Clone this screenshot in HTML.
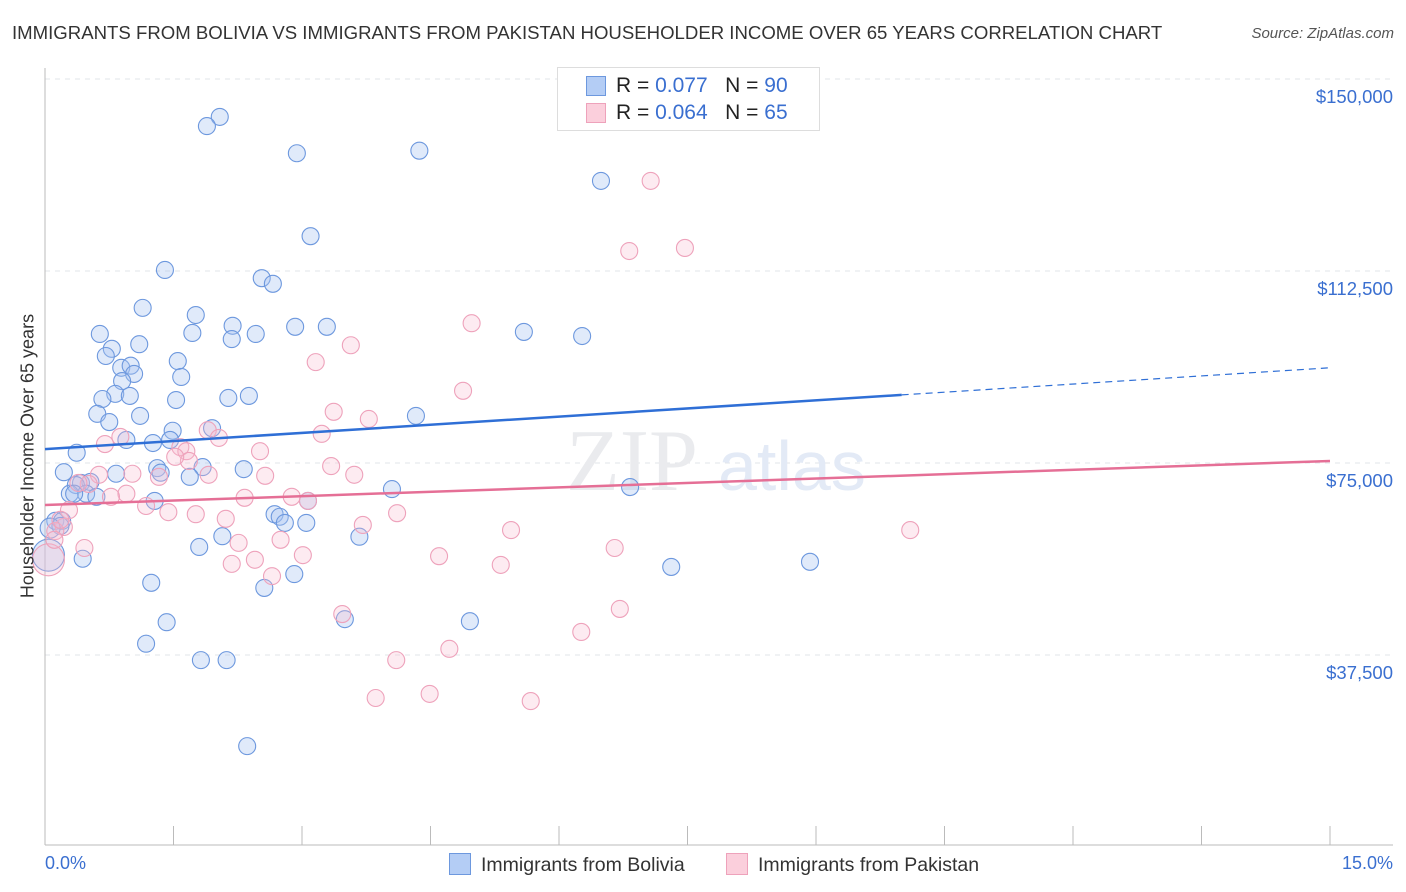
<!DOCTYPE html>
<html><head><meta charset="utf-8">
<style>
body{margin:0;background:#fff;font-family:"Liberation Sans",sans-serif;}
#wrap{position:relative;width:1406px;height:892px;overflow:hidden;}
.title{position:absolute;left:12px;top:22px;font-size:18.6px;color:#333;}
.source{position:absolute;right:12px;top:25px;font-size:15px;color:#555;font-style:italic;}
</style></head><body>
<div id="wrap">
<div class="title">IMMIGRANTS FROM BOLIVIA VS IMMIGRANTS FROM PAKISTAN HOUSEHOLDER INCOME OVER 65 YEARS CORRELATION CHART</div>
<div class="source">Source: ZipAtlas.com</div>
<svg id="chart" width="1406" height="892" style="position:absolute;left:0;top:0"></svg>
</div>
<script>
const bolX=[2.04,1.89,2.94,4.37,6.49,3.10,1.40,2.53,2.66,1.14,1.76,0.64,1.72,2.19,2.18,2.46,2.92,3.29,5.59,6.27,1.10,0.78,0.71,1.55,0.89,1.00,1.04,0.90,1.59,0.82,0.67,0.99,2.14,2.38,1.53,0.61,1.11,0.75,4.33,1.49,1.95,0.95,1.26,1.46,0.37,1.31,2.32,1.84,0.22,0.83,1.35,1.69,0.42,0.53,0.36,4.05,6.83,0.29,0.48,0.60,0.34,1.28,3.07,0.12,0.20,0.18,2.68,2.74,2.80,3.05,2.07,3.67,1.80,0.44,7.31,8.93,2.91,1.24,2.56,3.50,4.96,1.42,1.18,1.82,2.12,2.36,0.04,0.06];
const bolY=[142.6,140.8,135.5,136.0,130.1,119.3,112.7,111.1,110.0,105.3,103.9,100.2,100.4,101.8,99.2,100.2,101.6,101.6,100.6,99.8,98.2,97.3,95.9,94.9,93.6,94.0,92.4,91.0,91.8,88.5,87.5,88.1,87.7,88.1,87.3,84.6,84.2,83.0,84.2,81.3,81.8,79.5,78.9,79.5,77.0,74.0,73.8,74.2,73.2,72.9,73.1,72.3,71.1,71.3,70.7,69.9,70.3,69.0,69.0,68.4,69.0,67.6,67.6,63.7,63.7,62.7,65.0,64.5,63.3,63.3,60.7,60.6,58.6,56.3,54.7,55.7,53.3,51.6,50.6,44.5,44.1,43.9,39.7,36.5,36.5,19.7,57.0,62.3];
const pakX=[7.07,6.82,7.47,4.98,3.57,3.16,4.88,3.37,3.78,3.23,1.90,2.03,0.70,0.88,1.58,1.65,1.68,1.52,3.34,2.51,3.61,0.63,1.02,1.33,1.91,2.57,0.51,0.39,0.95,0.77,1.18,1.44,1.76,2.11,2.33,2.88,3.07,4.11,5.44,0.28,0.22,0.12,0.46,2.26,2.75,3.71,3.01,2.45,2.18,4.60,5.32,6.65,10.10,2.65,3.47,6.71,6.26,4.72,4.10,4.49,3.86,5.67,0.04,0.18,0.11];
const pakY=[130.1,116.4,117.0,102.3,98.0,94.7,89.1,85.0,83.6,80.7,81.4,79.9,78.7,80.1,78.1,77.3,75.4,76.2,74.4,77.3,72.7,72.7,72.9,72.3,72.7,72.5,70.9,71.1,69.0,68.4,66.6,65.4,65.0,64.1,68.2,68.4,67.6,65.2,61.9,65.8,62.5,61.7,58.4,59.4,60.0,62.9,57.0,56.1,55.3,56.8,55.1,58.4,61.9,52.9,45.5,46.5,42.0,38.7,36.5,29.9,29.1,28.5,56.1,63.9,60.0];
const bolTrend=[77.7,88.3,93.6]; // at 0%, 10%, 15%
const pakTrend=[66.8,75.4];       // at 0%, 15%
const yTicks=[150000,112500,75000,37500];
const yTickLabels=["$150,000","$112,500","$75,000","$37,500"];

const NS="http://www.w3.org/2000/svg";
const svg=document.getElementById('chart');
const X=p=>45+p/15*1285;
const Y=k=>79+(150-k)/37.5*192;
function mk(t,a){const e=document.createElementNS(NS,t);for(const k in a)e.setAttribute(k,a[k]);svg.appendChild(e);return e;}

yTicks.forEach((v,i)=>{
  const g=mk('line',{x1:45,x2:1393,y1:Y(v/1000),y2:Y(v/1000),stroke:'#e2e4e8','stroke-dasharray':'5,5'});
  
  
  const t=mk('text',{x:1393,y:Y(v/1000)+24,'text-anchor':'end','font-size':18.5,fill:'#3a6fd0'});
  t.textContent=yTickLabels[i];
  
  
});
const ax=mk('line',{x1:45,x2:45,y1:68,y2:845,stroke:'#bbb'});


const bx=mk('line',{x1:45,x2:1393,y1:845,y2:845,stroke:'#bbb'});


for(let i=0;i<=10;i++){
  const t=mk('line',{x1:X(i*1.5),x2:X(i*1.5),y1:826,y2:845,stroke:'#bbb'});
  
  
}
const wm=mk('text',{x:632,y:490,'text-anchor':'middle','font-size':88,fill:'#eaebee','font-family':'Liberation Serif'});
wm.textContent='ZIP';


const wm2=mk('text',{x:718,y:490,'font-size':70,fill:'#e3eaf6'});
wm2.textContent='atlas';



bolX.forEach((x,i)=>{
  const r=(i>=bolX.length-2)?(i===bolX.length-2?16:10):8.5;
  const c=mk('circle',{cx:X(x),cy:Y(bolY[i]),r:r,fill:'rgba(165,195,242,0.35)',stroke:'#6d98de','stroke-width':1.1});
  
  
});
pakX.forEach((x,i)=>{
  const r=(i===pakX.length-3)?16:8.5;
  const c=mk('circle',{cx:X(x),cy:Y(pakY[i]),r:r,fill:'rgba(248,190,210,0.3)',stroke:'#eea2bb','stroke-width':1.1});
  
  
});
const t1=mk('line',{x1:X(0),y1:Y(bolTrend[0]),x2:X(10),y2:Y(bolTrend[1]),stroke:'#2f6fd6','stroke-width':2.5});


const t2=mk('line',{x1:X(10),y1:Y(bolTrend[1]),x2:X(15),y2:Y(bolTrend[2]),stroke:'#2f6fd6','stroke-width':1.2,'stroke-dasharray':'7,5'});


const t3=mk('line',{x1:X(0),y1:Y(pakTrend[0]),x2:X(15),y2:Y(pakTrend[1]),stroke:'#e56f96','stroke-width':2.5});


</script>
<div style="position:absolute;left:557px;top:67px;width:261px;height:62px;border:1px solid #ddd;background:#fff;font-size:21px;color:#222;">
 <div style="position:absolute;left:28px;top:8px;width:18px;height:18px;background:#b4cdf5;border:1px solid #6d98de"></div>
 <div style="position:absolute;left:58px;top:6px">R = <span style="color:#3a6fd0">0.077</span>&nbsp;&nbsp;&nbsp;N = <span style="color:#3a6fd0">90</span></div>
 <div style="position:absolute;left:28px;top:35px;width:18px;height:18px;background:#fbcfdc;border:1px solid #eea2bb"></div>
 <div style="position:absolute;left:58px;top:33px">R = <span style="color:#3a6fd0">0.064</span>&nbsp;&nbsp;&nbsp;N = <span style="color:#3a6fd0">65</span></div>
</div>
<div style="position:absolute;left:28px;top:456px;transform:translate(-50%,-50%) rotate(-90deg);font-size:18px;color:#333;white-space:nowrap">Householder Income Over 65 years</div>
<div style="position:absolute;left:45px;top:853px;font-size:18px;color:#3a6fd0">0.0%</div>
<div style="position:absolute;right:13px;top:853px;font-size:18px;color:#3a6fd0">15.0%</div>
<div style="position:absolute;left:449px;top:853px;font-size:19.5px;color:#333">
 <span style="display:inline-block;width:20px;height:20px;background:#b4cdf5;border:1px solid #6d98de;vertical-align:-4px;margin-right:10px"></span>Immigrants from Bolivia</div>
<div style="position:absolute;left:726px;top:853px;font-size:19.5px;color:#333">
 <span style="display:inline-block;width:20px;height:20px;background:#fbcfdc;border:1px solid #eea2bb;vertical-align:-4px;margin-right:10px"></span>Immigrants from Pakistan</div>
</body></html>
